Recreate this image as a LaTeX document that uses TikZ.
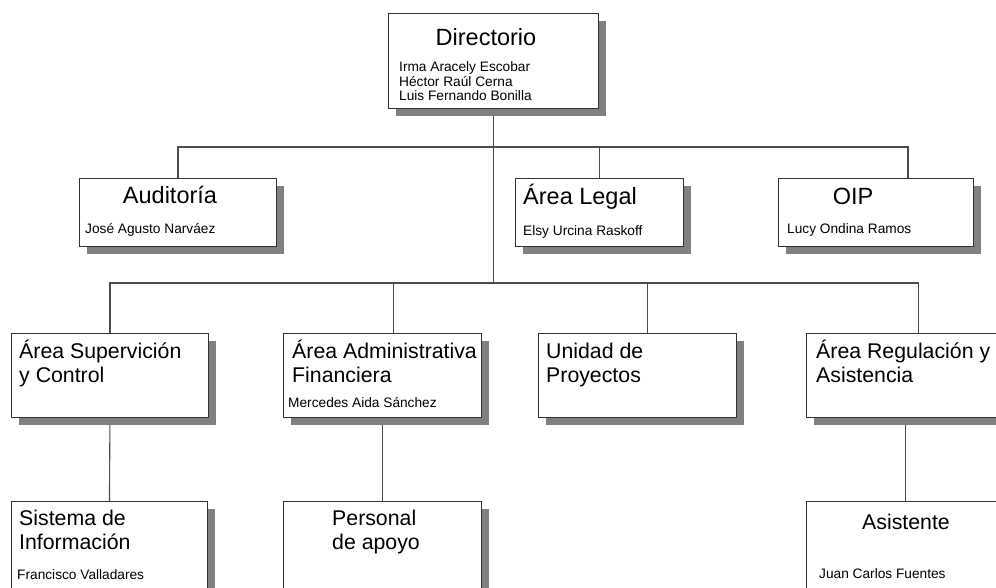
\documentclass[tikz,border=0pt]{standalone}
\usepackage{fontspec}
\setmainfont{Liberation Sans}
\usetikzlibrary{shadows,backgrounds}

\tikzset{
  unit/.style={draw=black!80, line width=0.9pt, fill=white, anchor=north west, inner sep=0pt,
    drop shadow={shadow xshift=8pt, shadow yshift=-8pt, fill=black!50, opacity=1}},
  big/.style={font=\fontsize{23.5}{27}\selectfont, anchor=base west, inner sep=0pt},
  mid/.style={font=\fontsize{21.3}{24}\selectfont, anchor=base west, inner sep=0pt, align=left},
  small/.style={font=\fontsize{13.7}{14.8}\selectfont, anchor=base west, inner sep=0pt, align=left},
  link/.style={draw=black!70, line width=1.1pt}
}

\begin{document}
\begin{tikzpicture}[x=1pt, y=-1pt]
  \useasboundingbox (0,0) rectangle (996,588);
  \clip (0,0) rectangle (996,588);

  % top
  \node[unit, minimum width=210pt, minimum height=95pt] (dir) at (388,13) {};
  \node[big, anchor=base] (dirT) at ([shift={(98,33)}]dir.north west) {Directorio};
  \node[small] (dirN) at ([shift={(11,88)}]dir.north west)
    {Irma Aracely Escobar\\Héctor Raúl Cerna\\Luis Fernando Bonilla};

  % staff
  \node[unit, minimum width=197pt, minimum height=68pt] (aud) at (79,178) {};
  \node[big, anchor=base] (audT) at ([shift={(91,26)}]aud.north west) {Auditoría};
  \node[small] (audN) at ([shift={(6,56)}]aud.north west) {José Agusto Narváez};

  \node[unit, minimum width=168pt, minimum height=68pt] (legal) at (515,178) {};
  \node[big] (legalT) at ([shift={(8,27)}]legal.north west) {Área Legal};
  \node[small] (legalN) at ([shift={(8,58)}]legal.north west) {Elsy Urcina Raskoff};

  \node[unit, minimum width=195pt, minimum height=68pt] (oip) at (778,178) {};
  \node[big, anchor=base] (oipT) at ([shift={(75,27)}]oip.north west) {OIP};
  \node[small] (oipN) at ([shift={(9,56)}]oip.north west) {Lucy Ondina Ramos};

  % areas
  \node[unit, minimum width=197pt, minimum height=84pt] (sup) at (11,333) {};
  \node[mid] (supT) at ([shift={(8,49)}]sup.north west) {Área Supervición\\y Control};

  \node[unit, minimum width=198pt, minimum height=84pt] (adm) at (283,333) {};
  \node[mid] (admT) at ([shift={(9,49)}]adm.north west) {Área Administrativa\\Financiera};
  \node[small] (admN) at ([shift={(5,74)}]adm.north west) {Mercedes Aida Sánchez};

  \node[unit, minimum width=198pt, minimum height=84pt] (proy) at (538,333) {};
  \node[mid] (proyT) at ([shift={(8,49)}]proy.north west) {Unidad de\\Proyectos};

  \node[unit, minimum width=198pt, minimum height=84pt] (reg) at (806,333) {};
  \node[mid] (regT) at ([shift={(10,49)}]reg.north west) {Área Regulación y\\Asistencia};

  % bottom
  \node[unit, minimum width=196pt, minimum height=95pt] (sis) at (11,501) {};
  \node[mid] (sisT) at ([shift={(8,48)}]sis.north west) {Sistema de\\Información};
  \node[small] (sisN) at ([shift={(6,78)}]sis.north west) {Francisco Valladares};

  \node[unit, minimum width=198pt, minimum height=95pt] (pers) at (283,501) {};
  \node[mid] (persT) at ([shift={(49,48)}]pers.north west) {Personal\\de apoyo};

  \node[unit, minimum width=198pt, minimum height=95pt] (asis) at (806,501) {};
  \node[mid, anchor=base] (asisT) at ([shift={(100,28)}]asis.north west) {Asistente};
  \node[small] (asisN) at ([shift={(13,77)}]asis.north west) {Juan Carlos Fuentes};

  \begin{scope}[on background layer]
    \fill[white] (0,0) rectangle (996,588);
    \coordinate (hubA) at (dir.south |- 0,147);
    \coordinate (hubB) at (dir.south |- 0,283);
    \draw[link] (dir.south) -- (hubB);
    \draw[link] (aud.north) |- (hubA) -| ([xshift=32pt]oip.north);
    \draw[link] (legal.north) -- (legal.north |- hubA);
    \draw[link] (sup.north) |- (hubB) -| ([xshift=13pt]reg.north);
    \draw[link] ([xshift=11pt]adm.north) -- ([xshift=11pt]adm.north |- hubB);
    \draw[link] ([xshift=10pt]proy.north) -- ([xshift=10pt]proy.north |- hubB);
    \draw[link] (sup.south) -- (sis.north);
    \draw[link] (adm.south) -- (pers.north);
    \draw[link] (reg.south) -- (asis.north);
  \end{scope}
\end{tikzpicture}
\end{document}
